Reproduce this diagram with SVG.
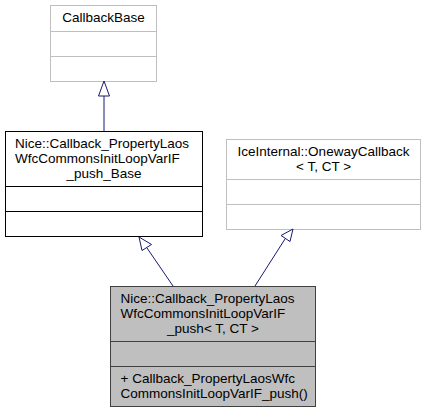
<svg xmlns="http://www.w3.org/2000/svg" width="427" height="412" viewBox="0 0 427 412">
<style>
text{font-family:"Liberation Sans",Arial,sans-serif;font-size:13.5px;fill:#000}
.c{text-anchor:middle}
.grey{fill:#fff;stroke:#bfbfbf;stroke-width:1}
.blk{fill:#fff;stroke:#000;stroke-width:1}
.cur{fill:#bfbfbf;stroke:#404040;stroke-width:1}
.edge{fill:none;stroke:#191970;stroke-width:1}
.head{fill:#fff;stroke:#191970;stroke-width:1}
</style>
<rect width="427" height="412" fill="#fff"/>
<g id="CallbackBase">
<rect class="grey" x="50.5" y="5.5" width="106" height="76"/>
<line class="grey" x1="50.5" y1="31.5" x2="156.5" y2="31.5"/>
<line class="grey" x1="50.5" y1="56.5" x2="156.5" y2="56.5"/>
<text class="c" x="103.5" y="22">CallbackBase</text>
</g>
<g id="Base">
<rect class="blk" x="5.5" y="131.5" width="197" height="105"/>
<line class="blk" x1="5.5" y1="186.5" x2="202.5" y2="186.5"/>
<line class="blk" x1="5.5" y1="211.5" x2="202.5" y2="211.5"/>
<text x="15" y="148">Nice::Callback_PropertyLaos</text>
<text x="15" y="163">WfcCommonsInitLoopVarIF</text>
<text class="c" x="104" y="178">_push_Base</text>
</g>
<g id="OnewayCallback">
<rect class="grey" x="226.5" y="139.5" width="194" height="90"/>
<line class="grey" x1="226.5" y1="179.5" x2="420.5" y2="179.5"/>
<line class="grey" x1="226.5" y1="204.5" x2="420.5" y2="204.5"/>
<text class="c" x="323.5" y="156">IceInternal::OnewayCallback</text>
<text class="c" x="323.5" y="171">&lt; T, CT &gt;</text>
</g>
<g id="Push">
<rect class="cur" x="110.5" y="286.5" width="205" height="120"/>
<line class="cur" x1="110.5" y1="341.5" x2="315.5" y2="341.5"/>
<line class="cur" x1="110.5" y1="366.5" x2="315.5" y2="366.5"/>
<text x="120.5" y="303">Nice::Callback_PropertyLaos</text>
<text x="120.5" y="318">WfcCommonsInitLoopVarIF</text>
<text class="c" x="213" y="333">_push&lt; T, CT &gt;</text>
<text x="120.5" y="383">+ Callback_PropertyLaosWfc</text>
<text x="120.5" y="398">CommonsInitLoopVarIF_push()</text>
</g>
<g id="edges">
<line class="edge" x1="104" y1="131" x2="104" y2="96"/>
<polygon class="head" points="104,81 98.5,96 109.5,96"/>
<line class="edge" x1="173" y1="286" x2="147" y2="248"/>
<polygon class="head" points="139,237 142,250.5 151.5,244.5"/>
<line class="edge" x1="255" y1="286" x2="285" y2="239"/>
<polygon class="head" points="293,229 281,235.5 290,241.5"/>
</g>
</svg>
